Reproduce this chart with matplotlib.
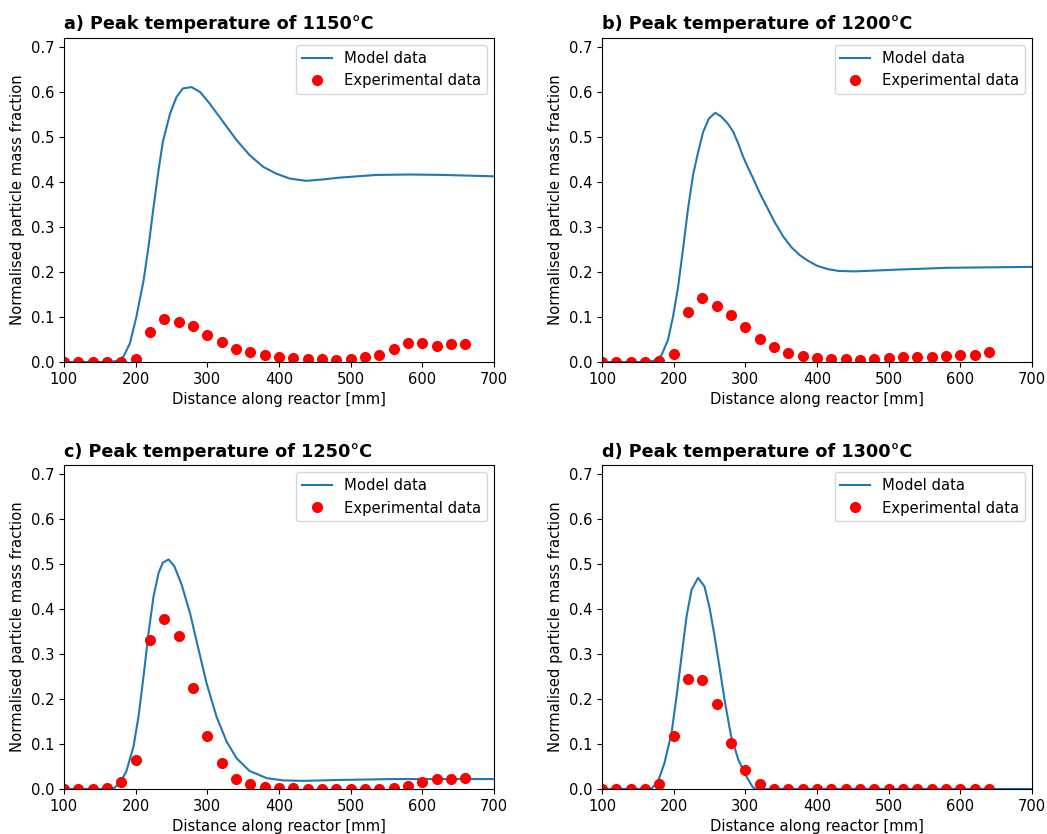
import numpy as np
import matplotlib
matplotlib.use("Agg")
import matplotlib.pyplot as plt

plt.rcParams["font.size"] = 10.6

# experimental sampling positions (mm)
x_exp = np.arange(100, 661, 20)

# experimental data, one list per peak temperature
exp_1150 = [0, 0, 0, 0, 0, 0.007, 0.066, 0.096, 0.088, 0.079, 0.059, 0.044, 0.029, 0.021, 0.016,
            0.010, 0.008, 0.006, 0.006, 0.004, 0.007, 0.010, 0.016, 0.029, 0.041, 0.041, 0.036, 0.040, 0.040]
exp_1200 = [0, 0, 0, 0, 0.002, 0.017, 0.111, 0.143, 0.124, 0.105, 0.078, 0.050, 0.034, 0.019, 0.013,
            0.009, 0.007, 0.006, 0.005, 0.006, 0.008, 0.010, 0.010, 0.011, 0.013, 0.015, 0.016, 0.021]
exp_1250 = [0, 0, 0, 0.003, 0.016, 0.065, 0.331, 0.377, 0.341, 0.225, 0.118, 0.057, 0.022, 0.012, 0.005,
            0.002, 0.002, 0.001, 0.001, 0.001, 0.0, 0.001, 0.001, 0.002, 0.007, 0.015, 0.022, 0.022, 0.024]
exp_1300 = [0, 0, 0, 0, 0.011, 0.117, 0.245, 0.243, 0.189, 0.102, 0.043, 0.010, 0, 0, 0,
            0, 0, 0, 0, 0, 0, 0, 0, 0, 0, 0, 0, 0]

# model curves
mod_x_1150 = [100, 165, 173, 183, 192, 201, 211, 218, 225, 232, 238, 248, 257, 266, 278, 290, 303,
              322, 341, 359, 378, 396, 415, 438, 461, 484, 536, 583, 629, 700]
mod_y_1150 = [0, 0, 0.002, 0.012, 0.041, 0.10, 0.18, 0.256, 0.344, 0.426, 0.489, 0.551, 0.588, 0.607,
              0.610, 0.599, 0.574, 0.533, 0.492, 0.459, 0.433, 0.418, 0.407, 0.402, 0.405, 0.409,
              0.415, 0.416, 0.415, 0.412]
mod_x_1200 = [100, 163, 173, 183, 192, 199, 206, 213, 220, 227, 234, 241, 249, 258, 266, 275, 283,
              290, 297, 304, 311, 320, 330, 341, 353, 364, 376, 388, 400, 415, 430, 452, 484, 513,
              583, 700]
mod_y_1200 = [0, 0, 0.003, 0.015, 0.049, 0.10, 0.165, 0.25, 0.34, 0.415, 0.465, 0.51, 0.54, 0.553,
              0.545, 0.53, 0.511, 0.485, 0.455, 0.43, 0.407, 0.375, 0.344, 0.31, 0.278, 0.255,
              0.237, 0.224, 0.2135, 0.206, 0.202, 0.201, 0.203, 0.205, 0.209, 0.211]
mod_x_1250 = [100, 160, 169, 178, 187, 197, 204, 211, 218, 225, 232, 238, 246, 254, 264, 276, 287,
              299, 313, 327, 341, 359, 383, 406, 434, 484, 560, 700]
mod_y_1250 = [0, 0, 0.001, 0.013, 0.039, 0.094, 0.161, 0.25, 0.347, 0.428, 0.48, 0.503, 0.51, 0.495,
              0.455, 0.39, 0.315, 0.235, 0.16, 0.105, 0.068, 0.04, 0.024, 0.019, 0.018, 0.020,
              0.022, 0.022]
mod_x_1300 = [100, 160, 169, 178, 187, 197, 204, 211, 218, 225, 234, 243, 250, 257, 264, 271, 280,
              290, 299, 305, 310, 314, 700]
mod_y_1300 = [0, 0, 0.001, 0.016, 0.057, 0.124, 0.206, 0.295, 0.384, 0.443, 0.469, 0.45, 0.403,
              0.34, 0.27, 0.198, 0.118, 0.066, 0.035, 0.018, 0.005, 0, 0]

titles = ["a) Peak temperature of 1150°C", "b) Peak temperature of 1200°C",
          "c) Peak temperature of 1250°C", "d) Peak temperature of 1300°C"]

panels = [
    (mod_x_1150, mod_y_1150, exp_1150),
    (mod_x_1200, mod_y_1200, exp_1200),
    (mod_x_1250, mod_y_1250, exp_1250),
    (mod_x_1300, mod_y_1300, exp_1300),
]

# axes rectangles in figure fractions [left, bottom, width, height]
rects = [
    [0.0611, 0.566, 0.4107, 0.389],
    [0.575, 0.566, 0.4107, 0.389],
    [0.0611, 0.054, 0.4107, 0.3885],
    [0.575, 0.054, 0.4107, 0.3885],
]

fig = plt.figure(figsize=(10.47, 8.34), dpi=100)

for rect, title, (mx, my, ey) in zip(rects, titles, panels):
    ax = fig.add_axes(rect)
    ax.plot(mx, my, label="Model data")
    ax.plot(x_exp[:len(ey)], ey, "ro", markersize=7, label="Experimental data")
    ax.set_xlim(100, 700)
    ax.set_ylim(0, 0.72)
    ax.set_xlabel("Distance along reactor [mm]")
    ax.set_ylabel("Normalised particle mass fraction")
    ax.set_title(title, loc="left", fontweight="bold", fontsize=12.7)
    ax.legend(loc="upper right")

plt.savefig("out.png", dpi=100)
